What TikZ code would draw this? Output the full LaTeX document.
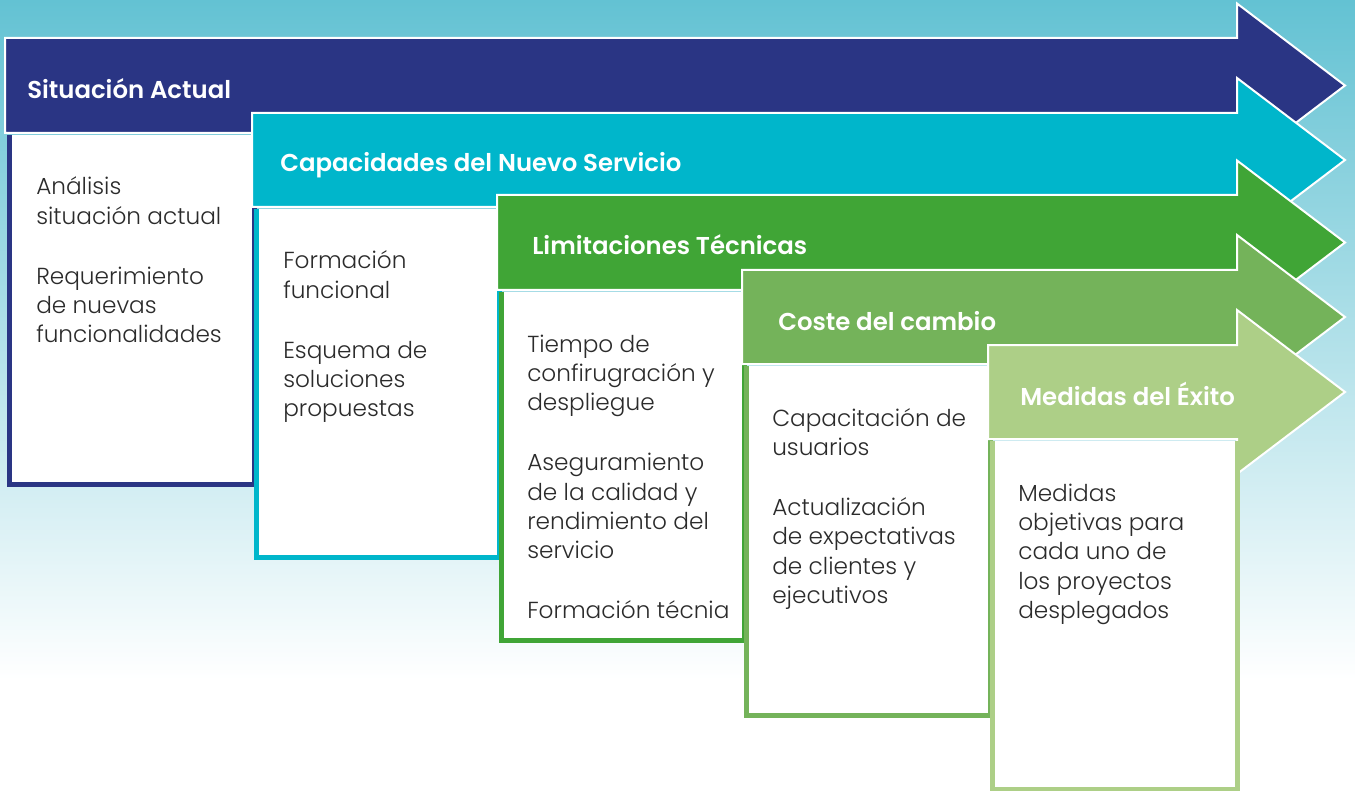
\documentclass[tikz,border=0pt]{standalone}
\usepackage{fontspec}
\setmainfont{Poppins}[UprightFont={* Light}]
\newfontfamily\headfont{Poppins}[UprightFont={* SemiBold}]
\definecolor{bgtop}{RGB}{99,194,211}
\definecolor{navy}{RGB}{42,53,132}
\definecolor{cyanb}{RGB}{0,182,203}
\definecolor{greenb}{RGB}{64,165,54}
\definecolor{midgreen}{RGB}{116,179,90}
\definecolor{lightgreen}{RGB}{173,207,135}
\definecolor{txt}{RGB}{43,43,43}
\newcommand\bodytext[1]{\parbox[t]{220pt}{\raggedright #1}}
\newcommand\gap{\\[23pt]}
\begin{document}
\begin{tikzpicture}[x=0.75pt,y=-0.75pt,
  head/.style={anchor=base west, text=white, font=\headfont\fontsize{18.3}{21}\selectfont, inner sep=0pt},
  body/.style={anchor=base west, text=txt, font=\fontsize{17.4}{22}\selectfont, inner sep=0pt},
  arrowout/.style={draw=white, line width=1.5pt, line join=miter}]
\useasboundingbox (0,0) rectangle (1355,791);
\shade[top color=bgtop, bottom color=white] (0,0) rectangle (1355,680);
\fill[white] (0,680) rectangle (1355,791);
\foreach \L/\T/\B/\R/\BB/\c in {5/38/133/257/487/navy, 252/113/207/502/560/cyanb, 497/195/290/747/643/greenb, 742/270/364/993/718/midgreen, 988/345/439/1240/792/lightgreen}{
  \pgfmathsetmacro\C{(\T+\B)/2}
  \draw[arrowout, fill=\c] (\L,\T) -- (1237,\T) -- (1237,{\C-82}) -- (1345,\C) -- (1237,{\C+82}) -- (1237,\B) -- (\L,\B) -- cycle;
  \fill[\c] ({\L+2},{\B+2}) rectangle (\R,\BB);
  \fill[white] ({\L+7},{\B+2}) rectangle ({\R-5},{\BB-5});
}
\node[head] (h1) at (27,99) {Situación Actual};
\node[head] (h2) at (280,172) {Capacidades del Nuevo Servicio};
\node[head] (h3) at (532,255) {Limitaciones Técnicas};
\node[head] (h4) at (778,330) {Coste del cambio};
\node[head] (h5) at (1020,405) {Medidas del Éxito};
\node[body] (b1) at (36,195) {\bodytext{Análisis\\situación actual\gap Requerimiento\\de nuevas\\funcionalidades}};
\node[body] (b2) at (283,269) {\bodytext{Formación\\funcional\gap Esquema de\\soluciones\\propuestas}};
\node[body] (b3) at (527,352) {\bodytext{Tiempo de\\confirugración y\\despliegue\gap Aseguramiento\\de la calidad y\\rendimiento del\\servicio\gap Formación técnia}};
\node[body] (b4) at (772,426) {\bodytext{Capacitación de\\usuarios\gap Actualización\\de expectativas\\de clientes y\\ejecutivos}};
\node[body] (b5) at (1018,501) {\bodytext{Medidas\\objetivas para\\cada uno de\\los proyectos\\desplegados}};
\end{tikzpicture}
\end{document}
